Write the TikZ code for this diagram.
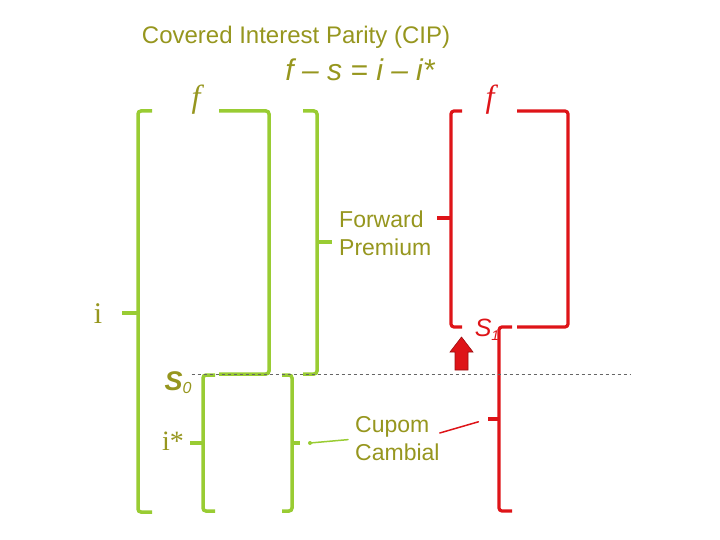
\documentclass[tikz,border=0pt]{standalone}
\usepackage{fontspec}
\setmainfont{Liberation Sans}
\newfontfamily\serifface{Liberation Serif}
\usepackage{xcolor}
\usepackage{tikz}
\usetikzlibrary{positioning}
\definecolor{cipGreen}{RGB}{153,204,51}
\definecolor{cipOlive}{RGB}{150,150,30}
\definecolor{cipRed}{RGB}{222,20,24}
\tikzset{
  greenbr/.style={
    draw=cipGreen,
    line width=3.5pt,
    rounded corners=3pt
  },
  redbr/.style={
    draw=cipRed,
    line width=3.2pt,
    rounded corners=3pt
  },
  txt/.style={
    inner sep=0pt,
    text=cipOlive,
    font=\fontsize{23}{28}\selectfont
  },
  sym/.style={
    inner sep=0pt,
    text=cipOlive,
    font=\serifface\fontsize{30}{34}\selectfont
  },
  link/.style={line width=1.5pt, line cap=round},
  level/.style={dashed, gray!80!black, line width=0.7pt}
}
\begin{document}
\begin{tikzpicture}[x=1pt,y=-1pt]
  \useasboundingbox (0,0) rectangle (720,540);

  \node[txt, font=\fontsize{24}{28}\selectfont] (title) at (296,37) {Covered Interest Parity (CIP)};
  \node[txt, font=\itshape\fontsize{30}{34}\selectfont] (cip) at (360,70)
    {f – s = i – i*};

  % green side
  \draw[greenbr] (152,111) -- (138,111) -- (138,512) -- (152,512);
  \draw[greenbr] (219,111) -- (269,111) -- (269,374) -- (219,374);
  \draw[greenbr] (303,111) -- (317,111) -- (317,374) -- (303,374);
  \draw[greenbr] (215,375) -- (203,375) -- (203,511) -- (215,511);
  \draw[greenbr] (282,375) -- (292,375) -- (292,511) -- (282,511);
  \draw[greenbr] (138,313) -- (122,313);
  \draw[greenbr] (317,242) -- (332,242);
  \draw[greenbr] (203,443) -- (190,443);
  \draw[greenbr] (292,443) -- (300,443) coordinate (cupTip);
  \coordinate (cupDot) at (310,443);

  % red side
  \draw[redbr] (462,111) -- (451,111) -- (451,327) -- (462,327);
  \draw[redbr] (517,111) -- (568,111) -- (568,327) -- (517,327);
  \draw[redbr] (512,327) -- (499,327) -- (499,511) -- (512,511);
  \draw[redbr] (451,218) -- (437,218);
  \draw[redbr] (499,419) -- (488,419) coordinate (redTip);

  \node[sym, font=\serifface\itshape\fontsize{32}{36}\selectfont] (fG) at (196,100) {f};
  \node[sym, text=cipRed, font=\serifface\itshape\fontsize{32}{36}\selectfont] (fR) at (490,100) {f};
  \node[sym] (iL) at (98,314) {i};
  \node[sym, font=\serifface\fontsize{28}{32}\selectfont] (iS) at (173,441) {i*};
  \node[txt, font=\bfseries\itshape\fontsize{27}{30}\selectfont] (s0) at (178,383)
    {S\textmd{\fontsize{16}{18}\selectfont\raisebox{-3pt}{0}}};
  \node[txt, text=cipRed, font=\itshape\fontsize{25}{28}\selectfont] (s1) at (487,330)
    {S\fontsize{14}{16}\selectfont\raisebox{-4pt}{1}};

  \node[txt, align=left, anchor=west] (fwd) at (339,233) {Forward\\Premium};
  \node[txt, align=left, anchor=west] (cupom) at (355,439) {Cupom\\Cambial};

  \coordinate (lvlEnd) at (631,374);
  \draw[level] (s0.north east |- lvlEnd) -- (lvlEnd);

  \draw[link, cipGreen, shorten >=7pt] (cupDot) -- (cupom.west);
  \fill[cipGreen] (cupDot) circle (2pt);
  \draw[link, cipRed, shorten >=10pt] ([yshift=6pt]cupom.east) -- (redTip);

  % rise of s
  \draw[cipRed!70!black, fill=cipRed, line width=0.6pt]
    (455,370) -- (455,352) -- (450,352) -- (461.5,337) -- (473,352)
    -- (468,352) -- (468,370) -- cycle;
\end{tikzpicture}
\end{document}
